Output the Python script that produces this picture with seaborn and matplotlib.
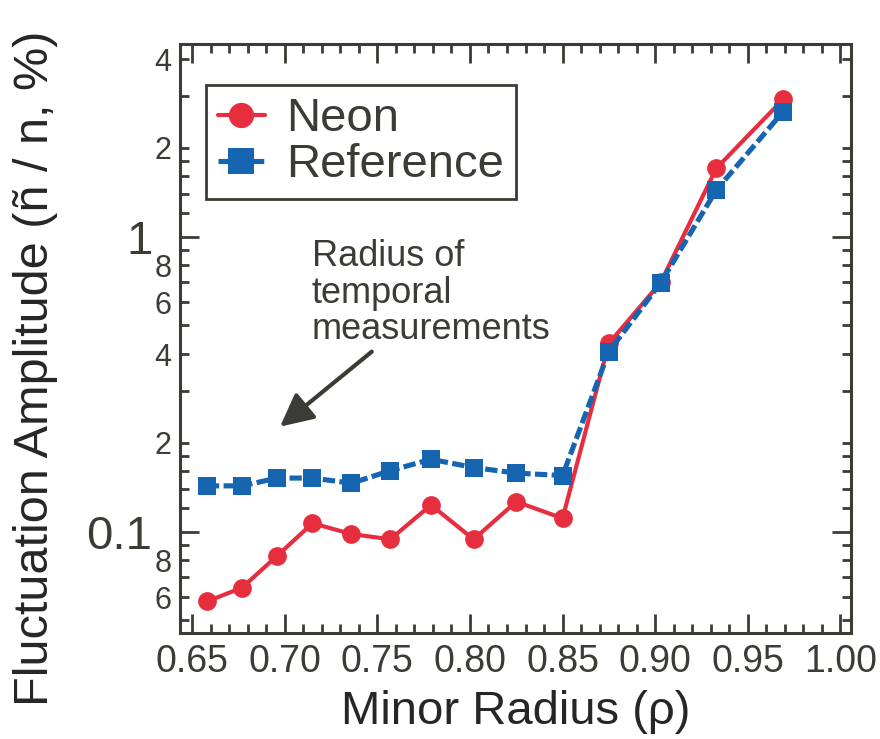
import matplotlib
matplotlib.use("Agg")
import matplotlib.pyplot as plt
from matplotlib.ticker import FixedLocator, FixedFormatter
import pandas as pd
import seaborn as sns

# Radial profile of density fluctuation amplitude
rho = [0.658, 0.677, 0.696, 0.715, 0.736, 0.757, 0.779, 0.802, 0.825, 0.850,
       0.875, 0.903, 0.933, 0.969]
neon = [0.058, 0.0646, 0.0829, 0.1068, 0.0982, 0.0942, 0.1232, 0.0942, 0.1264,
        0.111, 0.435, 0.70, 1.705, 2.92]
reference = [0.143, 0.143, 0.152, 0.152, 0.146, 0.161, 0.176, 0.165, 0.158,
             0.155, 0.408, 0.698, 1.44, 2.65]
series_names = ["Neon", "Reference"]

x_ticks = [0.65, 0.70, 0.75, 0.80, 0.85, 0.90, 0.95, 1.00]
x_tick_labels = ["0.65", "0.70", "0.75", "0.80", "0.85", "0.90", "0.95", "1.00"]
y_major_ticks = [0.1, 1.0]
y_major_labels = ["0.1", "1"]
y_minor_ticks = [0.05, 0.06, 0.07, 0.08, 0.09, 0.12, 0.14, 0.16, 0.18, 0.2,
                 0.3, 0.4, 0.5, 0.6, 0.7, 0.8, 0.9, 1.2, 1.4, 1.6, 1.8, 2.0,
                 3.0, 4.0]
y_minor_labels = ["", "6", "", "8", "", "", "", "", "", "2",
                  "", "4", "", "6", "", "8", "", "", "", "", "", "2",
                  "", "4"]

INK = "#3c3c37"
RED = "#e62e3f"
BLUE = "#1565b0"

sns.set_style("ticks")
plt.rcParams["font.family"] = ["Liberation Sans", "DejaVu Sans"]
plt.rcParams["text.color"] = INK
plt.rcParams["axes.edgecolor"] = INK
plt.rcParams["xtick.color"] = INK
plt.rcParams["ytick.color"] = INK

df = pd.DataFrame({
    "rho": rho + rho,
    "amp": neon + reference,
    "series": [series_names[0]] * len(rho) + [series_names[1]] * len(rho),
})

fig = plt.figure(figsize=(8.8, 7.39), dpi=100)
ax = fig.add_axes([180 / 880, 1 - 633 / 739, 671 / 880, 589 / 739])

sns.lineplot(
    data=df, x="rho", y="amp", hue="series", style="series",
    hue_order=series_names, style_order=series_names,
    palette={"Neon": RED, "Reference": BLUE},
    markers={"Neon": "o", "Reference": "s"},
    dashes={"Neon": "", "Reference": (2.4, 0.85)},
    markersize=13.5, markeredgewidth=0, linewidth=3.0,
    sort=False, estimator=None, legend=False, ax=ax,
)
# heavier dashed stroke for the reference profile
ax.lines[1].set_linewidth(3.7)

ax.set_yscale("log")
ax.set_xlim(0.6435, 1.0057)
ax.set_ylim(0.04535, 4.5)

# x axis ticks
ax.set_xticks(x_ticks)
ax.set_xticklabels(x_tick_labels, fontsize=27)
ax.xaxis.set_minor_locator(FixedLocator(
    [round(0.65 + 0.01 * i, 2) for i in range(36) if i % 5]))

# y axis ticks: decades large, intermediate values as single digits
ax.yaxis.set_major_locator(FixedLocator(y_major_ticks))
ax.yaxis.set_major_formatter(FixedFormatter(y_major_labels))
ax.yaxis.set_minor_locator(FixedLocator(y_minor_ticks))
ax.yaxis.set_minor_formatter(FixedFormatter(y_minor_labels))

ax.tick_params(axis="both", which="both", direction="in", top=True,
               right=True, width=2, color=INK)
ax.tick_params(axis="x", which="major", length=14, pad=8)
ax.tick_params(axis="x", which="minor", length=6.5)
ax.tick_params(axis="y", which="major", length=14, labelsize=34, pad=20)
ax.tick_params(axis="y", which="minor", length=6.5, labelsize=22, pad=6)
for s in ax.spines.values():
    s.set_linewidth(2.2)
    s.set_color(INK)

ax.set_xlabel("Minor Radius (ρ)", fontsize=34, va="center")
ax.xaxis.set_label_coords(0.5, -0.134)
ax.set_ylabel("Fluctuation Amplitude (ñ / n, %)", fontsize=35, va="center")
ax.yaxis.set_label_coords(-0.216, 0.45)

# annotation
ax.text(0.7146, 0.644, "Radius of\ntemporal\nmeasurements", ha="left",
        va="center", fontsize=26, linespacing=1.05, color=INK)
ax.annotate("", xy=(0.6975, 0.227), xytext=(0.747, 0.4076),
            arrowprops=dict(arrowstyle="-|>,head_length=0.4,head_width=0.2",
                            lw=3, color=INK, mutation_scale=50,
                            shrinkA=0, shrinkB=0))

leg = ax.legend(handles=ax.lines[:2], labels=series_names,
                loc="upper left", bbox_to_anchor=(0.0387, 0.930),
                borderaxespad=0, fontsize=34, markerscale=1.35,
                handlelength=1.0, handletextpad=0.45, borderpad=0.25,
                labelspacing=0.05, fancybox=False, framealpha=1)
leg.get_frame().set_edgecolor(INK)
leg.get_frame().set_linewidth(2)

fig.savefig("out.png", dpi=100)
